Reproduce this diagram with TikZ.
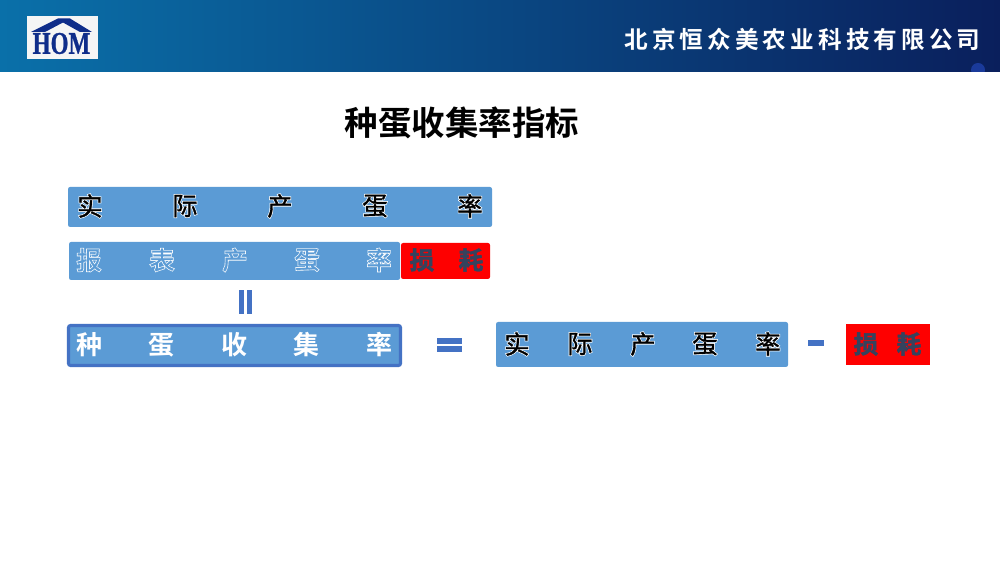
\documentclass[tikz,border=0pt]{standalone}
\usepackage{fontspec}
\newfontfamily\cjk[FakeBold=1.2]{Noto Sans CJK SC}
\newfontfamily\cjkbold{Noto Sans CJK SC Bold}
\newfontfamily\cjkhalo[FakeBold=7]{Noto Sans CJK SC}
\newfontfamily\cjkheavy[FakeBold=2]{Noto Sans CJK SC Bold}
\newfontfamily\logofont[FakeBold=1]{Liberation Serif Bold}
\definecolor{barblue}{HTML}{5B9BD5}
\definecolor{rimblue}{HTML}{4472C4}
\definecolor{lossred}{HTML}{FE0000}
\definecolor{lossdark}{HTML}{34435E}
\definecolor{logoblue}{HTML}{0F2D8A}
\definecolor{headleft}{HTML}{0A70A9}
\definecolor{headmid}{HTML}{05488F}
\definecolor{headright}{HTML}{0A1F5C}
\definecolor{blobblue}{HTML}{1A3A9A}
\newcommand{\halo}[3]{\makebox[0pt]{\cjkhalo\color{#2}#3}\makebox[0pt]{\cjk\color{#1}#3}}
\tikzset{
	every node/.style={inner sep=0pt, outer sep=0pt},
	bar/.style={fill=barblue, rounded corners=1.5pt},
	lossbar/.style={fill=lossred},
	sign/.style={fill=rimblue},
	blackch/.style={font=\fontsize{18}{18}\selectfont},
	whitech/.style={font=\fontsize{17.5}{18}\selectfont},
	lossch/.style={text=lossdark, font=\fontsize{17.5}{18}\cjkheavy},
}
\begin{document}
\begin{tikzpicture}[x=0.025cm, y=-0.025cm]
	
	\useasboundingbox (0,0) rectangle (1000,563);
	\fill[white] (0,0) rectangle (1000,563);
	\shade[left color=headleft, middle color=headmid, right color=headright] (0,0) rectangle (1000,72);
	\begin{scope}
		\clip (0,0) rectangle (1000,72);
		\fill[blobblue] (978,70) circle (7);
	\end{scope}
	
	% logo
	\fill[white!96!black] (27,16) rectangle (98,59);
	\fill[logoblue] (31,32) -- (58,18.5) -- (70,18.5) -- (92,32) -- (80,32) -- (63,22.5) -- (45,32) -- cycle;
	\node[text=logoblue, xscale=.82, yscale=1.12, font=\fontsize{20}{20}\logofont] (logo) at (61.5,43.5) {HOM};
	\node[text=white, font=\fontsize{16.8}{17}\cjkbold] (company) at (802.5,39) {北\hspace{2.9pt}京\hspace{2.9pt}恒\hspace{2.9pt}众\hspace{2.9pt}美\hspace{2.9pt}农\hspace{2.9pt}业\hspace{2.9pt}科\hspace{2.9pt}技\hspace{2.9pt}有\hspace{2.9pt}限\hspace{2.9pt}公\hspace{2.9pt}司};
	\node[text=black, font=\fontsize{23.8}{24}\cjkbold] (title) at (462,123) {种蛋收集率指标};
	
	% top row
	\fill[bar] (68,187) rectangle (492,227);
	\node[blackch] (a1) at (90,206) {\halo{black}{white}{实}};
	\node[blackch] (a2) at (185,206) {\halo{black}{white}{际}};
	\node[blackch] (a3) at (280,206) {\halo{black}{white}{产}};
	\node[blackch] (a4) at (375,206) {\halo{black}{white}{蛋}};
	\node[blackch] (a5) at (470,206) {\halo{black}{white}{率}};
	
	% second row
	\fill[bar] (69,242) rectangle (400,280);
	\node[whitech] (b1) at (89,260) {\halo{barblue}{white}{报}};
	\node[whitech] (b2) at (162,260) {\halo{barblue}{white}{表}};
	\node[whitech] (b3) at (235,260) {\halo{barblue}{white}{产}};
	\node[whitech] (b4) at (307,260) {\halo{barblue}{white}{蛋}};
	\node[whitech] (b5) at (379,260) {\halo{barblue}{white}{率}};
	\fill[lossbar, rounded corners=1.5pt] (401,243) rectangle (490,279);
	\node[lossch] (b6) at (422,260) {损};
	\node[lossch] (b7) at (471,260) {耗};
	
	% equals between rows
	\fill[sign] (239,290) rectangle (244,314);
	\fill[sign] (247,290) rectangle (252,314);
	
	% bottom row
	\draw[bar, draw=rimblue, line width=2.2pt] (68.5,325.5) rectangle (400.5,365.5);
	\node[text=white, font=\fontsize{18.5}{18}\cjkbold] (c1) at (90,345) {种};
	\node[text=white, font=\fontsize{18.5}{18}\cjkbold] (c2) at (162,345) {蛋};
	\node[text=white, font=\fontsize{18.5}{18}\cjkbold] (c3) at (235,345) {收};
	\node[text=white, font=\fontsize{18.5}{18}\cjkbold] (c4) at (307,345) {集};
	\node[text=white, font=\fontsize{18.5}{18}\cjkbold] (c5) at (380,345) {率};
	
	\fill[sign] (437,338) rectangle (462,344.5);
	\fill[sign] (437,346) rectangle (462,352);
	
	\fill[bar] (496,322) rectangle (788,367);
	\node[blackch] (d1) at (517,344) {\halo{black}{white}{实}};
	\node[blackch] (d2) at (580,344) {\halo{black}{white}{际}};
	\node[blackch] (d3) at (643,344) {\halo{black}{white}{产}};
	\node[blackch] (d4) at (705,344) {\halo{black}{white}{蛋}};
	\node[blackch] (d5) at (768,344) {\halo{black}{white}{率}};
	
	\fill[sign] (808,340) rectangle (824,346);
	
	\fill[lossbar] (846,324) rectangle (930,365);
	\node[lossch] (d6) at (866,344) {损};
	\node[lossch] (d7) at (909,344) {耗};
	
\end{tikzpicture}
\end{document}
